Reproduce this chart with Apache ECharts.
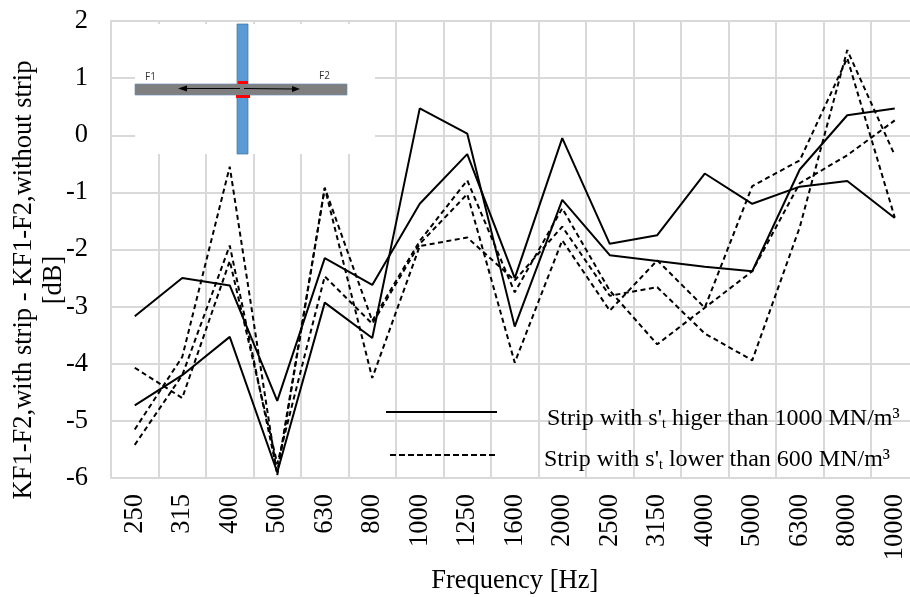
<!DOCTYPE html>
<html><head><meta charset="utf-8">
<style>html,body{margin:0;padding:0;background:#fff}#c{width:910px;height:597px}</style>
<script src="https://cdn.jsdelivr.net/npm/echarts@6/dist/echarts.min.js"></script>
</head><body><div id="c"></div>
<script>
const categories = ['250','315','400','500','630','800','1000','1250','1600','2000','2500','3150','4000','5000','6300','8000','10000'];
const solid1 = [-3.17,-2.5,-2.63,-4.65,-2.15,-2.62,-1.2,-0.33,-2.5,-0.05,-1.9,-1.75,-0.67,-1.2,-0.9,-0.8,-1.45];
const solid2 = [-4.73,-4.2,-3.53,-5.9,-2.93,-3.55,0.47,0.03,-3.35,-1.13,-2.1,-2.2,-2.3,-2.38,-0.6,0.35,0.47];
const dashed1 = [-4.07,-4.6,-2.2,-5.75,-2.47,-3.3,-1.9,-1.03,-3.98,-1.84,-3.07,-2.19,-3.02,-0.89,-0.44,1.35,-1.44];
const dashed2 = [-5.15,-3.88,-0.55,-5.95,-0.92,-4.25,-1.94,-1.79,-2.54,-1.6,-2.81,-2.66,-3.47,-3.94,-1.61,1.49,-0.35];
const dashed3 = [-5.42,-4.2,-1.93,-5.9,-0.92,-3.25,-1.85,-0.79,-2.75,-1.28,-2.72,-3.66,-3.02,-2.38,-0.84,-0.35,0.26];
const yTitle = 'KF1-F2,with strip - KF1-F2,without strip\n[dB]';
const xTitle = 'Frequency [Hz]';
const legendA = 'Strip with s\'{sub|t} higer than 1000 MN/m³';
const legendB = 'Strip with s\'{sub|t} lower than 600 MN/m³';
const serif = '"Liberation Serif","Times New Roman",serif';
const grey = '#d9d9d9';
const chart = echarts.init(document.getElementById('c'), null, {renderer:'canvas'});
const solid = d => ({type:'line', data:d, symbol:'none', silent:true, lineStyle:{color:'#000',width:2}});
const dash = d => ({type:'line', data:d, symbol:'none', silent:true, lineStyle:{color:'#000',width:2,type:[5,3.5]}});
const rich = {sub:{fontFamily:serif,fontSize:14,fill:'#000',padding:[11,0,0,0]}};
chart.setOption({
  animation:false,
  backgroundColor:'#fff',
  grid:{left:111,top:21,width:807.5,height:457,containLabel:false,outerBoundsMode:'none'},
  xAxis:{type:'category',data:categories,boundaryGap:true,
    name:xTitle,nameLocation:'middle',nameGap:90,nameMoveOverlap:false,
    nameTextStyle:{fontFamily:serif,fontSize:26.5,color:'#000'},
    axisLine:{show:true,lineStyle:{color:grey,width:2}},axisTick:{show:false},
    axisLabel:{rotate:90,interval:0,margin:16,fontFamily:serif,fontSize:26.5,color:'#000'},
    splitLine:{show:true,interval:0,lineStyle:{color:grey,width:2}}},
  yAxis:{type:'value',min:-6,max:2,interval:1,
    name:yTitle,nameLocation:'middle',nameGap:42,nameRotate:90,nameMoveOverlap:false,
    nameTextStyle:{fontFamily:serif,fontSize:26.5,color:'#000',lineHeight:30,padding:[0,61,0,0]},
    axisLine:{show:true,lineStyle:{color:grey,width:2}},axisTick:{show:false},
    axisLabel:{margin:23,fontFamily:serif,fontSize:26.5,color:'#000'},
    splitLine:{show:true,lineStyle:{color:grey,width:2}}},
  series:[solid(solid1),solid(solid2),dash(dashed1),dash(dashed2),dash(dashed3)],
  graphic:[
    {type:'rect',z:1,shape:{x:135,y:24,width:240,height:130},style:{fill:'#fff'}},
    {type:'rect',z:2,shape:{x:237,y:24,width:11,height:130},style:{fill:'#5b9bd5',stroke:'#41719c',lineWidth:0.7}},
    {type:'rect',z:3,shape:{x:135,y:84,width:212,height:11},style:{fill:'#7f7f7f',stroke:'#6f8fb5',lineWidth:0.7}},
    {type:'rect',z:3,shape:{x:238,y:81,width:10,height:3},style:{fill:'#ff0000'}},
    {type:'rect',z:3,shape:{x:236,y:95,width:14,height:3},style:{fill:'#ff0000'}},
    {type:'line',z:4,shape:{x1:186,y1:88.5,x2:240,y2:88.5},style:{stroke:'#000',lineWidth:1}},
    {type:'line',z:4,shape:{x1:244,y1:88.5,x2:294,y2:89},style:{stroke:'#000',lineWidth:1}},
    {type:'polygon',z:4,shape:{points:[[178,88.5],[187,85.5],[187,91.5]]},style:{fill:'#000'}},
    {type:'polygon',z:4,shape:{points:[[300,89],[292,86],[292,92]]},style:{fill:'#000'}},
    {type:'text',z:4,x:145,y:72,style:{text:'F1',fontFamily:'"Open Sans",sans-serif',fontSize:10,fill:'#333'}},
    {type:'text',z:4,x:319,y:71,style:{text:'F2',fontFamily:'"Open Sans",sans-serif',fontSize:10,fill:'#333'}},
    {type:'line',z:4,shape:{x1:386,y1:412,x2:497,y2:412},style:{stroke:'#000',lineWidth:2}},
    {type:'line',z:4,shape:{x1:390,y1:455,x2:498,y2:455},style:{stroke:'#000',lineWidth:2,lineDash:[6,3]}},
    {type:'text',z:4,x:547,y:406,style:{text:legendA,rich,fontFamily:serif,fontSize:24,fill:'#000'}},
    {type:'text',z:4,x:544,y:447,style:{text:legendB,rich,fontFamily:serif,fontSize:24,fill:'#000'}}
  ]
});
</script></body></html>
